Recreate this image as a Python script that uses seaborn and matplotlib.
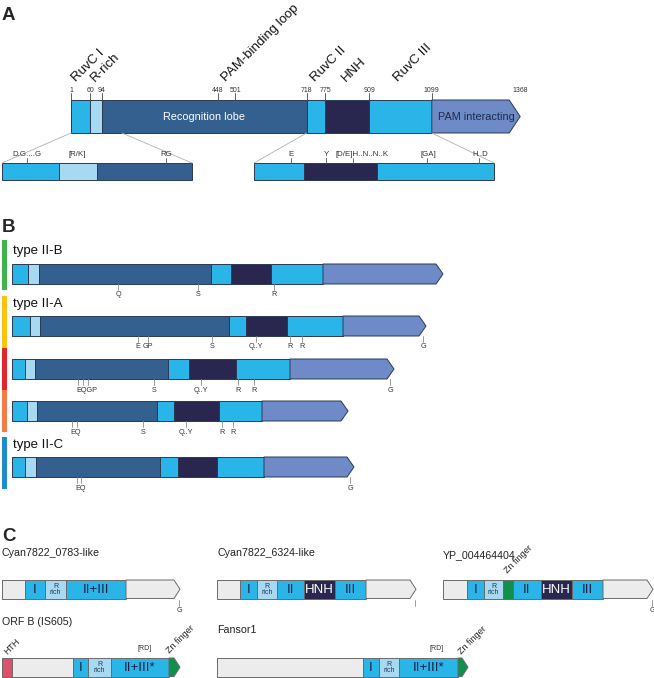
import matplotlib
matplotlib.use("Agg")
import matplotlib.pyplot as plt
from matplotlib.patches import Polygon, Rectangle
import seaborn as sns

# ---------------------------------------------------------------------------
# Colours per domain kind
# ---------------------------------------------------------------------------
COLORS = {
    "ruvc": "#29b5e8",
    "rrich": "#a8d9f2",
    "recog": "#34608f",
    "hnh": "#29274f",
    "pam": "#6e8bc7",
    "other": "#ececec",
    "zn": "#10904a",
    "hth": "#e0506a",
}

# ---------------------------------------------------------------------------
# Panel A: SpCas9 domain map (amino-acid positions)
# ---------------------------------------------------------------------------
A_BOUNDS = [1, 60, 94, 718, 775, 909, 1099, 1368]
A_PARTS = ["ruvc", "rrich", "recog", "ruvc", "hnh", "ruvc", "pam"]
A_SEG_TEXT = ["", "", "Recognition lobe", "", "", "", "PAM interacting"]
A_TICKS = [1, 60, 94, 448, 501, 718, 775, 909, 1099, 1368]
A_DOMAIN_NAMES = ["RuvC I", "R-rich", "PAM-binding loop", "RuvC II", "HNH", "RuvC III"]
A_DOMAIN_AA = [16, 74, 472, 743, 838, 996]

# zoomed sub-bars (motif positions along the drawn insets)
A_LEFT_BOUNDS = [2, 59, 97, 192]
A_LEFT_PARTS = ["ruvc", "rrich", "recog"]
A_LEFT_MOTIFS = ["D.G....G", "[R/K]", "RG"]
A_LEFT_MOTIF_X = [27, 77, 166]
A_LEFT_MOTIF_TICK = [True, False, True]

A_RIGHT_BOUNDS = [254, 304, 377, 494]
A_RIGHT_PARTS = ["ruvc", "hnh", "ruvc"]
A_RIGHT_MOTIFS = ["E", "Y", "[D/E]H..N..N..K", "[GA]", "H..D"]
A_RIGHT_MOTIF_X = [291, 326, 353, 427, 479]
A_RIGHT_LABEL_X = [291, 326, 362, 428, 480]

# ---------------------------------------------------------------------------
# Panel B: Cas9 subtypes
# ---------------------------------------------------------------------------
B_PARTS = ["ruvc", "rrich", "recog", "ruvc", "hnh", "ruvc", "pam"]
B_BOUNDS = [
    [12, 28, 39, 211, 231, 271, 323, 443],
    [12, 30, 40, 229, 246, 287, 343, 426],
    [12, 25, 35, 168, 189, 236, 290, 394],
    [12, 27, 37, 157, 174, 219, 262, 348],
    [12, 25, 36, 160, 178, 217, 264, 354],
]
B_MOTIFS = [
    [("Q", [118]), ("S", [198]), ("R", [274])],
    [("E", [138]), ("GP", [148]), ("S", [212]), ("Q..Y", [256]), ("R", [290]), ("R", [302]), ("G", [423])],
    [("EQGP", [78, 83, 88]), ("S", [154]), ("Q..Y", [201]), ("R", [238]), ("R", [254]), ("G", [390])],
    [("EQ", [72, 77]), ("S", [143]), ("Q..Y", [186]), ("R", [222]), ("R", [233])],
    [("EQ", [77, 81]), ("G", [350])],
]
B_TYPE_LABELS = ["type II-B", "type II-A", "type II-C"]
B_SIDE_COLORS = ["#3db54a", "#ffc20e", "#e3262c", "#f47c4a", "#1f8ccb"]

# ---------------------------------------------------------------------------
# Panel C: Cas9-like relatives
# ---------------------------------------------------------------------------
C_NAMES = ["Cyan7822_0783-like", "Cyan7822_6324-like", "YP_004464404", "ORF B (IS605)", "Fansor1"]
C_BOUNDS = [
    [2, 25, 45, 66, 126, 180],
    [217, 240, 257, 277, 304, 335, 366, 416],
    [443, 467, 484, 503, 513, 541, 572, 603, 653],
    [2, 12, 73, 88, 111, 169, 180],
    [217, 363, 379, 399, 458, 468],
]
C_PARTS = [
    ["other", "ruvc", "rrich", "ruvc", "other"],
    ["other", "ruvc", "rrich", "ruvc", "hnh", "ruvc", "other"],
    ["other", "ruvc", "rrich", "zn", "ruvc", "hnh", "ruvc", "other"],
    ["hth", "other", "ruvc", "rrich", "ruvc", "zn"],
    ["other", "ruvc", "rrich", "ruvc", "zn"],
]
C_TEXT = [
    ["", "I", "R\nrich", "II+III", ""],
    ["", "I", "R\nrich", "II", "HNH", "III", ""],
    ["", "I", "R\nrich", "", "II", "HNH", "III", ""],
    ["", "", "I", "R\nrich", "II+III*", ""],
    ["", "I", "R\nrich", "II+III*", ""],
]
C_END_MARK = ["G", "", "G", None, None]

# ---------------------------------------------------------------------------
sns.set_theme(style="white")
plt.rcParams["font.family"] = ["Liberation Sans", "DejaVu Sans"]

fig = plt.figure(figsize=(6.54, 6.78), dpi=100)
ax = fig.add_axes([0, 0, 1, 1])
ax.set_xlim(0, 654)
ax.set_ylim(678, 0)
ax.axis("off")

DARK_EDGE = "#2b3a55"
GREY = "#8c8c8c"
TXT = "#333333"


def draw_bar(bounds, parts, y, h, tip=0, edge=DARK_EDGE, lw=0.7):
    for i, kind in enumerate(parts):
        x0, x1 = bounds[i], bounds[i + 1]
        if tip and i == len(parts) - 1:
            xb = x1 - tip
            pts = [(x0, y), (xb, y), (x1, y + h / 2), (xb, y + h), (x0, y + h)]
        else:
            pts = [(x0, y), (x1, y), (x1, y + h), (x0, y + h)]
        ax.add_patch(Polygon(pts, closed=True, fc=COLORS[kind], ec=edge, lw=lw, joinstyle="miter"))


# ---------------------------- panel A ----------------------------------
def a_px(aa):
    return 71 + (aa - 1) * 0.3286


ax.text(2, 20, "A", fontsize=13.5, fontweight="bold", va="baseline")

a_bounds_px = [a_px(v) for v in A_BOUNDS]
draw_bar(a_bounds_px, A_PARTS, 100, 33, tip=11)
for i, t in enumerate(A_SEG_TEXT):
    if t:
        cx = (a_bounds_px[i] + a_bounds_px[i + 1]) / 2
        col = "white" if A_PARTS[i] == "recog" else "#1f2a4a"
        ax.text(cx, 117, t, color=col, fontsize=7.8, ha="center", va="center")

for aa in A_TICKS:
    x = a_px(aa)
    if aa != A_TICKS[-1]:
        ax.plot([x, x], [93, 100], color="#444444", lw=0.6)
    ax.text(x, 90, str(aa), fontsize=5, ha="center", va="center", color=TXT)

for name, aa in zip(A_DOMAIN_NAMES, A_DOMAIN_AA):
    ax.text(a_px(aa), 82, name, fontsize=9.5, rotation=45, rotation_mode="anchor",
            ha="left", va="baseline", color="#111111")

# insets and connector lines
ax.plot([a_px(1), 2], [133, 163], color="#b0b0b0", lw=0.6)
ax.plot([122, 192], [133, 163], color="#b0b0b0", lw=0.6)
ax.plot([a_px(718), 254], [133, 163], color="#b0b0b0", lw=0.6)
ax.plot([a_px(1099), 494], [133, 163], color="#b0b0b0", lw=0.6)

draw_bar(A_LEFT_BOUNDS, A_LEFT_PARTS, 163, 17)
for lab, x, has_tick in zip(A_LEFT_MOTIFS, A_LEFT_MOTIF_X, A_LEFT_MOTIF_TICK):
    if has_tick:
        ax.plot([x, x], [158, 163], color="#555555", lw=0.6)
    ax.text(x, 154, lab, fontsize=5.7, ha="center", va="center", color=TXT)

draw_bar(A_RIGHT_BOUNDS, A_RIGHT_PARTS, 163, 17)
for lab, x, lx in zip(A_RIGHT_MOTIFS, A_RIGHT_MOTIF_X, A_RIGHT_LABEL_X):
    ax.plot([x, x], [158, 163], color="#555555", lw=0.6)
    ax.text(lx, 154, lab, fontsize=5.7, ha="center", va="center", color=TXT)

# ---------------------------- panel B ----------------------------------
ax.text(2, 232, "B", fontsize=13.5, fontweight="bold", va="baseline")

side_spans = [(240, 290), (296, 348), (348, 390), (390, 432), (437, 489)]
for (y0, y1), col in zip(side_spans, B_SIDE_COLORS):
    ax.add_patch(Rectangle((2, y0), 5, y1 - y0, fc=col, ec="none"))

for lab, yc in zip(B_TYPE_LABELS, [251, 304, 445]):
    ax.text(13, yc, lab, fontsize=9.5, ha="left", va="center", color="#111111")

row_tops = [264, 316, 359, 401, 457]
for bounds, motifs, y in zip(B_BOUNDS, B_MOTIFS, row_tops):
    draw_bar(bounds, B_PARTS, y, 20, tip=7)
    for lab, xs in motifs:
        for x in xs:
            ax.plot([x, x], [y + 20, y + 26], color=GREY, lw=0.6)
        if len(xs) > 1:
            ax.text(xs[0] - 2, y + 31, lab, fontsize=5.2, ha="left", va="center", color=TXT)
        else:
            ax.text(xs[0], y + 31, lab, fontsize=5.2, ha="center", va="center", color=TXT)

# ---------------------------- panel C ----------------------------------
ax.text(2, 541, "C", fontsize=13.5, fontweight="bold", va="baseline")

c_title_pos = [(2, 553), (217, 553), (443, 555), (2, 622), (217, 630)]
c_bar_tops = [580, 580, 580, 658, 658]
for name, (tx, ty) in zip(C_NAMES, c_title_pos):
    ax.text(tx, ty, name, fontsize=7.7, ha="left", va="center", color="#222222")

for bounds, parts, texts, y, mark in zip(C_BOUNDS, C_PARTS, C_TEXT, c_bar_tops, C_END_MARK):
    draw_bar(bounds, parts, y, 18.5, tip=6, edge="#6a6a6a", lw=0.7)
    for i, t in enumerate(texts):
        if not t:
            continue
        cx = (bounds[i] + bounds[i + 1]) / 2
        if parts[i] == "rrich":
            ax.text(cx, y + 9.5, t, fontsize=5, ha="center", va="center",
                    color="#2a3550", linespacing=1.0)
        else:
            col = "white" if parts[i] == "hnh" else "#1d1f45"
            ax.text(cx, y + 9.8, t, fontsize=9.5, ha="center", va="center", color=col)
    if mark is not None:
        xm = bounds[-1] - 1
        ax.plot([xm, xm], [y + 20, y + 26], color=GREY, lw=0.6)
        if mark:
            ax.text(xm, y + 31, mark, fontsize=5.2, ha="center", va="center", color=TXT)

# small annotations on panel C
for x in [145, 437]:
    ax.text(x, 649, "[RD]", fontsize=5, ha="center", va="center", color=TXT)

for (x, y) in [(508, 574), (170, 654), (462, 655)]:
    ax.text(x, y, "Zn finger", fontsize=6.5, rotation=45, rotation_mode="anchor",
            ha="left", va="baseline", color="#222222")
ax.text(7, 655, "HTH", fontsize=6.5, rotation=45, rotation_mode="anchor",
        ha="left", va="baseline", color="#222222")

fig.savefig("out.png", dpi=100)
